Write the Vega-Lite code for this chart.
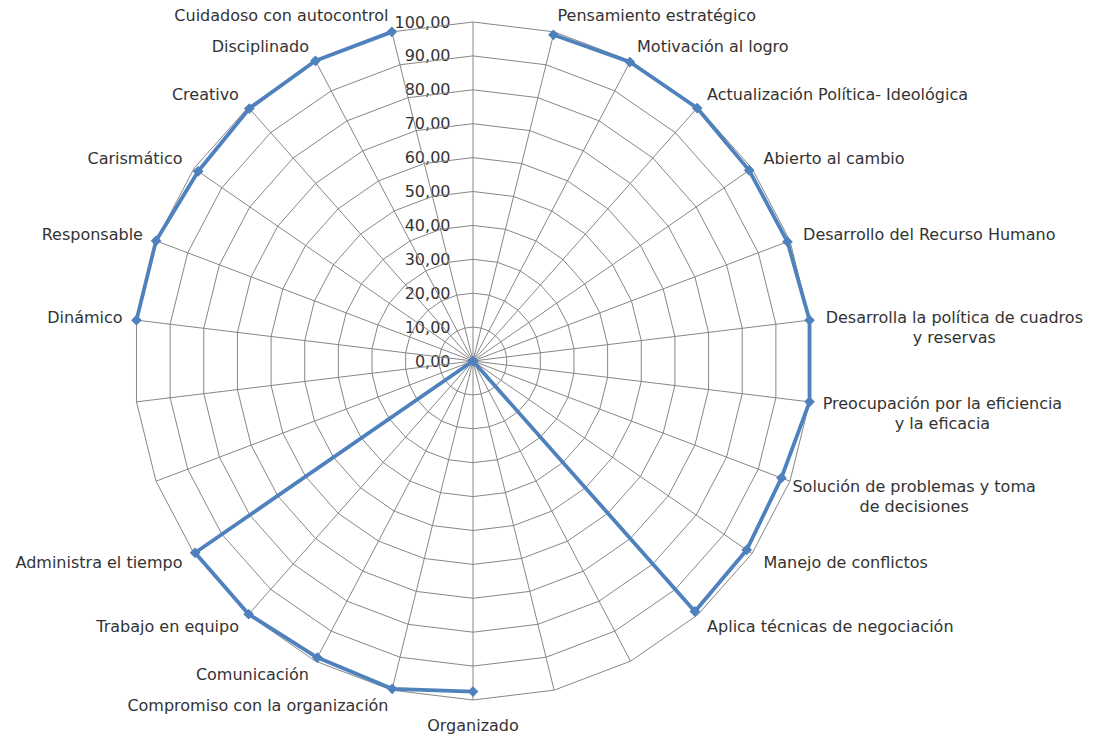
{
  "$schema": "https://vega.github.io/schema/vega-lite/v6.json",
  "width": 678,
  "height": 678,
  "autosize": "none",
  "padding": {"left": 134, "top": 22, "right": 289, "bottom": 35},
  "background": "#ffffff",
  "config": {
    "view": {"stroke": null},
    "locale": {"number": {"decimal": ",", "thousands": ".", "grouping": [3], "currency": ["", " €"]}},
    "text": {"font": "DejaVu Sans", "fontSize": 16, "color": "#333333"}
  },
  "datasets": {
    "cats": [
      {"i": 0, "label": "", "value": null},
      {"i": 1, "label": "Pensamiento estratégico", "value": 99.1},
      {"i": 2, "label": "Motivación al logro", "value": 99.6},
      {"i": 3, "label": "Actualización Política- Ideológica", "value": 99.7},
      {"i": 4, "label": "Abierto al cambio", "value": 99.0},
      {"i": 5, "label": "Desarrollo del Recurso Humano", "value": 99.2},
      {"i": 6, "label": "Desarrolla la política de cuadros\ny reservas", "value": 100},
      {"i": 7, "label": "Preocupación por la eficiencia\ny la eficacia", "value": 100},
      {"i": 8, "label": "Solución de problemas y toma\nde decisiones", "value": 97.3},
      {"i": 9, "label": "Manejo de conflictos", "value": 98.1},
      {"i": 10, "label": "Aplica técnicas de negociación", "value": 98.7},
      {"i": 11, "label": "", "value": 0},
      {"i": 12, "label": "", "value": null},
      {"i": 13, "label": "Organizado", "value": 97.5},
      {"i": 14, "label": "Compromiso con la organización", "value": 99.6},
      {"i": 15, "label": "Comunicación", "value": 98.8},
      {"i": 16, "label": "Trabajo en equipo", "value": 99.8},
      {"i": 17, "label": "Administra el tiempo", "value": 99.6},
      {"i": 18, "label": "", "value": 0},
      {"i": 19, "label": "", "value": null},
      {"i": 20, "label": "Dinámico", "value": 100},
      {"i": 21, "label": "Responsable", "value": 100},
      {"i": 22, "label": "Carismático", "value": 98.5},
      {"i": 23, "label": "Creativo", "value": 99.5},
      {"i": 24, "label": "Disciplinado", "value": 100},
      {"i": 25, "label": "Cuidadoso con autocontrol", "value": 100}
    ],
    "rings": [
      {"ring": 10, "k": [0,1,2,3,4,5,6,7,8,9,10,11,12,13,14,15,16,17,18,19,20,21,22,23,24,25,26]},
      {"ring": 20, "k": [0,1,2,3,4,5,6,7,8,9,10,11,12,13,14,15,16,17,18,19,20,21,22,23,24,25,26]},
      {"ring": 30, "k": [0,1,2,3,4,5,6,7,8,9,10,11,12,13,14,15,16,17,18,19,20,21,22,23,24,25,26]},
      {"ring": 40, "k": [0,1,2,3,4,5,6,7,8,9,10,11,12,13,14,15,16,17,18,19,20,21,22,23,24,25,26]},
      {"ring": 50, "k": [0,1,2,3,4,5,6,7,8,9,10,11,12,13,14,15,16,17,18,19,20,21,22,23,24,25,26]},
      {"ring": 60, "k": [0,1,2,3,4,5,6,7,8,9,10,11,12,13,14,15,16,17,18,19,20,21,22,23,24,25,26]},
      {"ring": 70, "k": [0,1,2,3,4,5,6,7,8,9,10,11,12,13,14,15,16,17,18,19,20,21,22,23,24,25,26]},
      {"ring": 80, "k": [0,1,2,3,4,5,6,7,8,9,10,11,12,13,14,15,16,17,18,19,20,21,22,23,24,25,26]},
      {"ring": 90, "k": [0,1,2,3,4,5,6,7,8,9,10,11,12,13,14,15,16,17,18,19,20,21,22,23,24,25,26]},
      {"ring": 100, "k": [0,1,2,3,4,5,6,7,8,9,10,11,12,13,14,15,16,17,18,19,20,21,22,23,24,25,26]}
    ]
  },
  "encoding": {
    "x": {"field": "px", "type": "quantitative", "scale": {"domain": [-100, 100], "nice": false, "zero": false}, "axis": null},
    "y": {
      "field": "py", "type": "quantitative",
      "scale": {"domain": [-100, 100], "nice": false, "zero": false},
      "axis": {
        "values": [0, 10, 20, 30, 40, 50, 60, 70, 80, 90, 100],
        "format": ".2f", "orient": "left", "offset": -339,
        "domain": false, "ticks": false, "grid": false, "title": null,
        "labelPadding": 23, "labelFont": "DejaVu Sans", "labelFontSize": 16,
        "labelColor": "#333333", "labelOverlap": false
      }
    }
  },
  "layer": [
    {
      "data": {"name": "rings"},
      "transform": [
        {"flatten": ["k"]},
        {"calculate": "datum.ring*sin(datum.k*PI/13)", "as": "px"},
        {"calculate": "datum.ring*cos(datum.k*PI/13)", "as": "py"}
      ],
      "mark": {"type": "line", "stroke": "#878787", "strokeWidth": 1},
      "encoding": {"detail": {"field": "ring", "type": "nominal"}, "order": {"field": "k", "type": "quantitative"}}
    },
    {
      "data": {"name": "cats"},
      "transform": [
        {"calculate": "0", "as": "px"},
        {"calculate": "0", "as": "py"},
        {"calculate": "100*sin(datum.i*PI/13)", "as": "px2"},
        {"calculate": "100*cos(datum.i*PI/13)", "as": "py2"}
      ],
      "mark": {"type": "rule", "stroke": "#878787", "strokeWidth": 1},
      "encoding": {"x2": {"field": "px2"}, "y2": {"field": "py2"}}
    },
    {
      "data": {"name": "cats"},
      "transform": [
        {"calculate": "datum.value == null ? null : datum.value*sin(datum.i*PI/13)", "as": "px"},
        {"calculate": "datum.value == null ? null : datum.value*cos(datum.i*PI/13)", "as": "py"}
      ],
      "mark": {"type": "line", "stroke": "#4F81BD", "strokeWidth": 3.8, "strokeJoin": "round"},
      "encoding": {"order": {"field": "i", "type": "quantitative"}}
    },
    {
      "data": {"name": "cats"},
      "transform": [
        {"filter": "datum.value != null"},
        {"calculate": "datum.value*sin(datum.i*PI/13)", "as": "px"},
        {"calculate": "datum.value*cos(datum.i*PI/13)", "as": "py"}
      ],
      "mark": {"type": "point", "shape": "diamond", "filled": true, "size": 115, "color": "#4F81BD", "opacity": 1}
    },
    {
      "data": {"name": "cats"},
      "transform": [
        {"filter": "datum.label != ''"},
        {"calculate": "sin(datum.i*PI/13)", "as": "s"},
        {"calculate": "cos(datum.i*PI/13)", "as": "c"},
        {"calculate": "indexof(datum.label, '\\n') >= 0", "as": "multi"},
        {"calculate": "datum.multi ? length(split(datum.label, '\\n')[0])*1.17 : 0", "as": "hw"},
        {"calculate": "104.13*datum.s + (datum.multi ? (datum.s > 0 ? 1 : -1)*datum.hw : 0)", "as": "px"},
        {"calculate": "104.72*datum.c + (abs(datum.s) < 0.05 ? 2.95*datum.c : 0)", "as": "py"},
        {"calculate": "(abs(datum.s) < 0.05 || datum.multi) ? 'center' : (datum.s > 0 ? 'left' : 'right')", "as": "al"}
      ],
      "layer": [
        {
          "transform": [{"filter": "datum.al == 'left'"}],
          "mark": {"type": "text", "align": "left", "baseline": "middle", "lineBreak": "\n", "lineHeight": 20, "font": "DejaVu Sans", "fontSize": 16, "color": "#333333"},
          "encoding": {"text": {"field": "label", "type": "nominal"}}
        },
        {
          "transform": [{"filter": "datum.al == 'right'"}],
          "mark": {"type": "text", "align": "right", "baseline": "middle", "lineBreak": "\n", "lineHeight": 20, "font": "DejaVu Sans", "fontSize": 16, "color": "#333333"},
          "encoding": {"text": {"field": "label", "type": "nominal"}}
        },
        {
          "transform": [{"filter": "datum.al == 'center'"}],
          "mark": {"type": "text", "align": "center", "baseline": "middle", "lineBreak": "\n", "lineHeight": 20, "font": "DejaVu Sans", "fontSize": 16, "color": "#333333"},
          "encoding": {"text": {"field": "label", "type": "nominal"}}
        }
      ]
    }
  ]
}
